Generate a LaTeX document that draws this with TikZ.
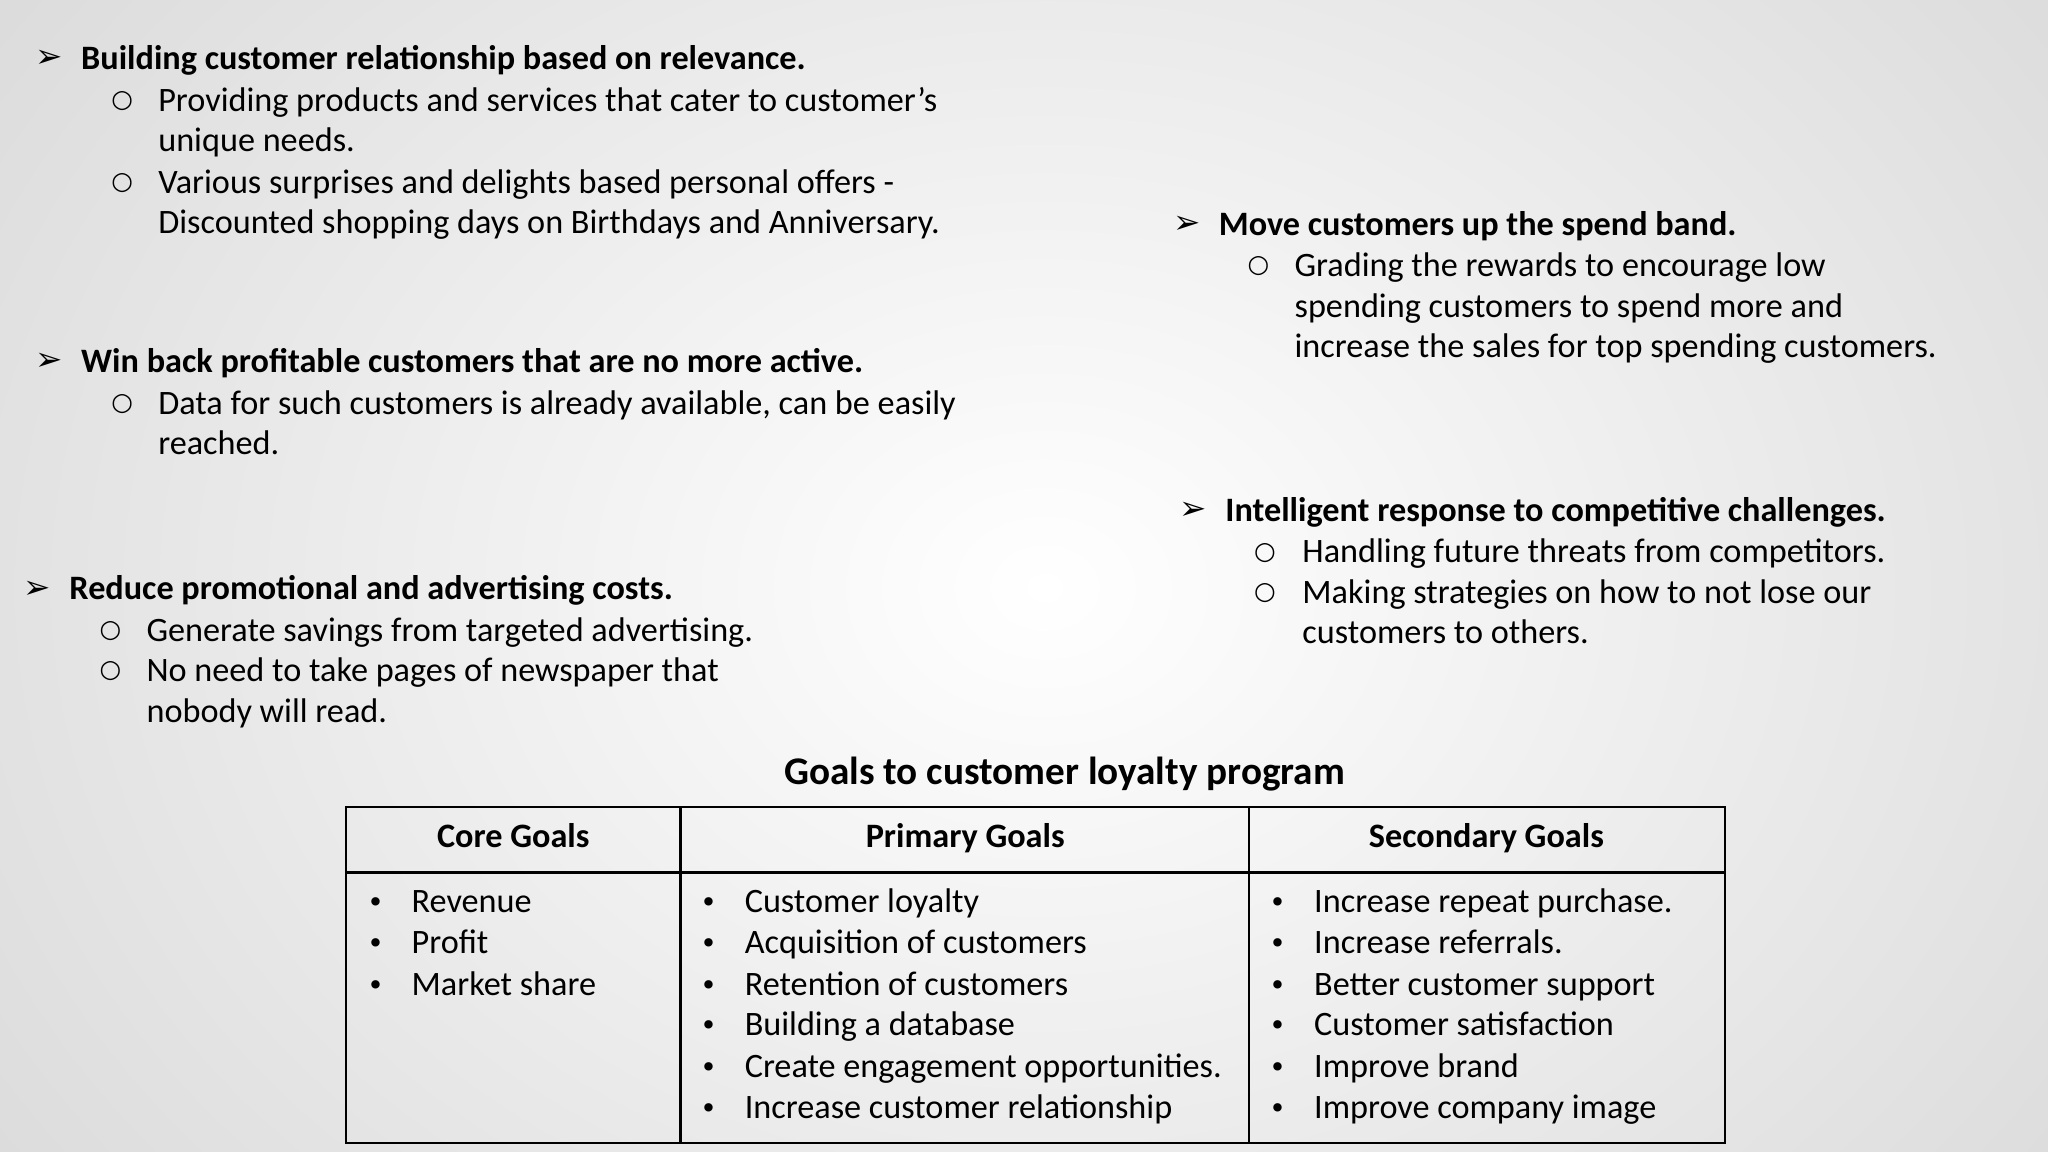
\documentclass[tikz,border=0pt]{standalone}
\usepackage{fontspec}
\setmainfont{Carlito}
\newfontfamily\dvs{DejaVu Sans}
\begin{document}
\begin{tikzpicture}[x=1pt,y=-1pt,
  t/.style={inner sep=0,anchor=base west,font=\fontsize{26.2}{31}\selectfont},
  b/.style={t,font=\fontsize{26.2}{31}\selectfont\bfseries},
  hd/.style={inner sep=0,anchor=base,font=\fontsize{26.2}{31}\selectfont\bfseries}]
\useasboundingbox (0,0) rectangle (1568,882);
\clip (0,0) rectangle (1568,882);
\shade[inner color=white,outer color=black!17] (-400,-500) rectangle (2000,1400);
\def\arr#1#2{\node[t,font=\dvs\fontsize{25}{31}\selectfont] at (#1,#2) {➢};}
\def\circb#1#2{\node[t,font=\dvs\bfseries\fontsize{19}{31}\selectfont] at (#1,#2-3) {○};}
\def\dotb#1#2{\node[t,font=\dvs\fontsize{22}{31}\selectfont] at (#1,#2) {•};}
% block 1
\arr{27}{52}\node[b] (a1) at (62,53) {Building customer relationship based on relevance.};
\circb{85}{85}\node[t] (a2) at (121,85) {Providing products and services that cater to customer's};
\node[t] (a3) at (121,116) {unique needs.};
\circb{85}{148}\node[t] (a4) at (121,148) {Various surprises and delights based personal offers -};
\node[t] (a5) at (121,179) {Discounted shopping days on Birthdays and Anniversary.};
% block 2
\arr{27}{284}\node[b] (b1) at (62,285) {Win back profitable customers that are no more active.};
\circb{85}{317}\node[t] (b2) at (121,317) {Data for such customers is already available, can be easily};
\node[t] (b3) at (121,348) {reached.};
% block 3
\arr{18}{458}\node[b] (c1) at (53,459) {Reduce promotional and advertising costs.};
\circb{76}{491}\node[t] (c2) at (112,491) {Generate savings from targeted advertising.};
\circb{76}{522}\node[t] (c3) at (112,522) {No need to take pages of newspaper that};
\node[t] (c4) at (112,553) {nobody will read.};
% right block 1
\arr{898}{179}\node[b] (d1) at (933,180) {Move customers up the spend band.};
\circb{955}{212}\node[t] (d2) at (991,212) {Grading the rewards to encourage low};
\node[t] (d3) at (991,243) {spending customers to spend more and};
\node[t] (d4) at (991,274) {increase the sales for top spending customers.};
% right block 2
\arr{903}{398}\node[b] (e1) at (938,399) {Intelligent response to competitive challenges.};
\circb{960}{431}\node[t] (e2) at (997,431) {Handling future threats from competitors.};
\circb{960}{462}\node[t] (e3) at (997,462) {Making strategies on how to not lose our};
\node[t] (e4) at (997,493) {customers to others.};
% title
\node[inner sep=0,anchor=base,font=\fontsize{30}{31}\selectfont\bfseries] (title) at (815,601) {Goals to customer loyalty program};
% table
\draw[line width=1.6pt] (265,618) rectangle (1321,875);
\draw[line width=1.6pt] (265,668) -- (1321,668) (521,618) -- (521,875) (956,618) -- (956,875);
\node[hd] (h1) at (393,649) {Core Goals};
\node[hd] (h2) at (739,649) {Primary Goals};
\node[hd] (h3) at (1138,649) {Secondary Goals};
\foreach \y/\s [count=\i] in {699/Revenue,730/Profit,762/Market share}
  {\dotb{281}{\y}\node[t] (p\i) at (315,\y) {\s};}
\foreach \y/\s [count=\i] in {699/Customer loyalty,730/Acquisition of customers,762/Retention of customers,793/Building a database,825/Create engagement opportunities.,856/Increase customer relationship}
  {\dotb{536}{\y}\node[t] (q\i) at (570,\y) {\s};}
\foreach \y/\s [count=\i] in {699/Increase repeat purchase.,730/Increase referrals.,762/Better customer support,793/Customer satisfaction,825/Improve brand,856/Improve company image}
  {\dotb{972}{\y}\node[t] (r\i) at (1006,\y) {\s};}
\end{tikzpicture}
\end{document}
